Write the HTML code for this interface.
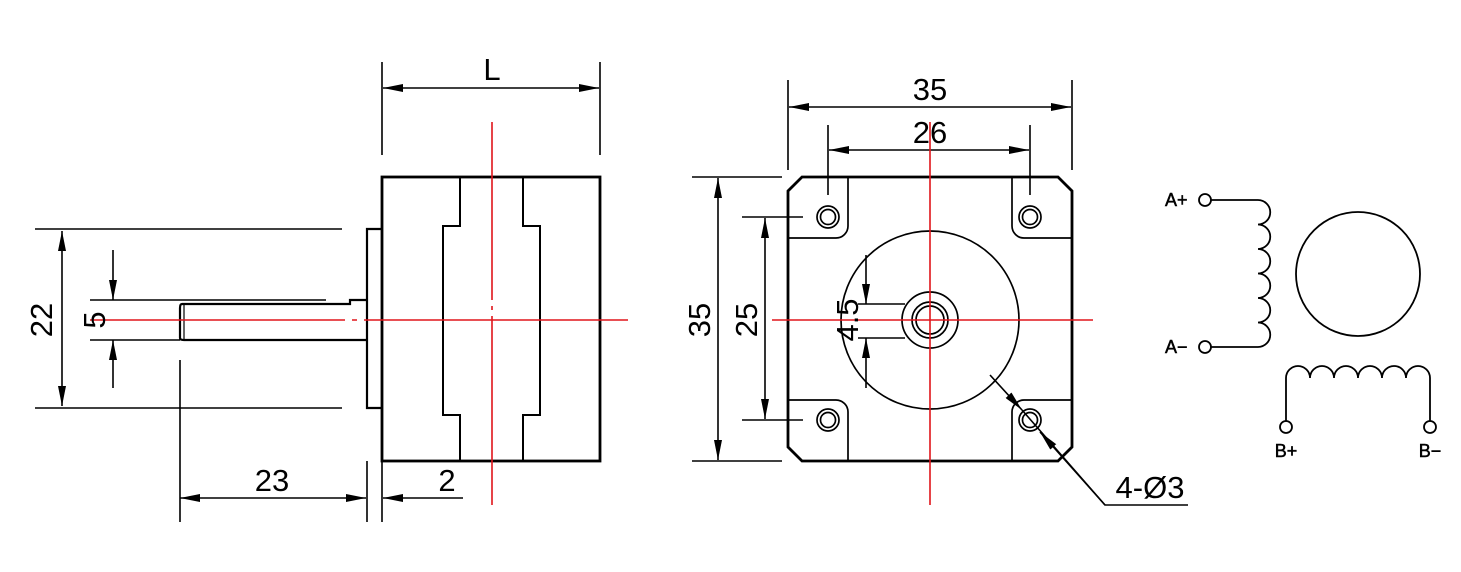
<!DOCTYPE html>
<html><head><meta charset="utf-8"><style>
html,body{margin:0;padding:0;background:#fff;}
svg{display:block;}
text{font-family:"Liberation Sans",sans-serif;fill:#000;}
</style></head><body>
<svg width="1461" height="572" viewBox="0 0 1461 572" xmlns="http://www.w3.org/2000/svg">
<defs>
<marker id="a" viewBox="0 0 20 8" refX="20" refY="4" markerWidth="20" markerHeight="8" markerUnits="userSpaceOnUse" orient="auto-start-reverse"><path d="M0,0 L20,4 L0,8 Z" fill="#000"/></marker>
</defs>
<g stroke="#000" fill="none">
<!-- side view -->
<rect x="382" y="177" width="218" height="284" stroke-width="2.8"/>
<path d="M460,177 V226 H443 V415 H460 V461 M523,177 V226 H540 V415 H523 V461" stroke-width="2"/>
<path d="M382,229 H367 V408 H382" stroke-width="2.2"/>
<path d="M367,300 H350 V304 H182 Q180,304 180,308 V338 Q180,340 184,340 H367" stroke-width="2.2"/>
<path d="M184,304 V340" stroke-width="1.2"/>
<g stroke-width="1.6">
<path d="M35,229 H342 M35,408 H342 M90,300 H326 M90,340 H180"/>
<path d="M62,231 V406" marker-start="url(#a)" marker-end="url(#a)"/>
<path d="M113,250 V300" marker-end="url(#a)"/>
<path d="M113,388 V340" marker-end="url(#a)"/>
<path d="M180,360 V522 M367,461 V522 M382,461 V522"/>
<path d="M180,498 H366" marker-start="url(#a)" marker-end="url(#a)"/>
<path d="M463,498 H383" marker-end="url(#a)"/>
<path d="M382,62 V155 M600,62 V155"/>
<path d="M383,88 H599" marker-start="url(#a)" marker-end="url(#a)"/>
</g>
<!-- front view -->
<path d="M802,177 H1058 L1072,191 V447 L1058,461 H802 L788,447 V191 Z" stroke-width="2.8"/>
<g stroke-width="1.7">
<path d="M848,177 V226 A12,12 0 0 1 836,238 H788"/>
<path d="M1012,177 V226 A12,12 0 0 0 1024,238 H1072"/>
<path d="M848,461 V412 A12,12 0 0 0 836,400 H788"/>
<path d="M1012,461 V412 A12,12 0 0 1 1024,400 H1072"/>
<circle cx="828" cy="217" r="11"/><circle cx="828" cy="217" r="7.5"/>
<circle cx="1030" cy="217" r="11"/><circle cx="1030" cy="217" r="7.5"/>
<circle cx="828" cy="420" r="11"/><circle cx="828" cy="420" r="7.5"/>
<circle cx="1030" cy="420" r="11"/><circle cx="1030" cy="420" r="7.5"/>
<circle cx="930" cy="320" r="89"/>
<circle cx="930" cy="320" r="28"/>
<circle cx="930" cy="320" r="18"/><circle cx="930" cy="320" r="14"/>
</g>
<g stroke-width="1.6">
<path d="M788,80 V170 M1072,80 V170 M828,125 V195 M1030,125 V195"/>
<path d="M789,107 H1071" marker-start="url(#a)" marker-end="url(#a)"/>
<path d="M829,150 H1029" marker-start="url(#a)" marker-end="url(#a)"/>
<path d="M692,177 H782 M692,461 H782 M742,217 H803 M742,420 H803"/>
<path d="M718,178 V460" marker-start="url(#a)" marker-end="url(#a)"/>
<path d="M765,218 V419" marker-start="url(#a)" marker-end="url(#a)"/>
<path d="M858,304 H905 M858,338 H905"/>
<path d="M866,255 V304" marker-end="url(#a)"/>
<path d="M866,388 V338" marker-end="url(#a)"/>
<path d="M990,375 L1022,410" marker-end="url(#a)"/>
<path d="M1105,505 L1040,432" marker-end="url(#a)"/>
<path d="M1022,410 L1105,505 H1188"/>
</g>
<!-- schematic -->
<g stroke-width="1.8">
<circle cx="1205" cy="200" r="6"/><circle cx="1205" cy="347" r="6"/>
<path d="M1211,200 H1258 a12.25,12.25 0 0 1 0,24.5 a12.25,12.25 0 0 1 0,24.5 a12.25,12.25 0 0 1 0,24.5 a12.25,12.25 0 0 1 0,24.5 a12.25,12.25 0 0 1 0,24.5 a12.25,12.25 0 0 1 0,24.5 H1211"/>
<circle cx="1358" cy="274" r="62"/>
<path d="M1286,421 V378 a12,12 0 0 1 24,0 a12,12 0 0 1 24,0 a12,12 0 0 1 24,0 a12,12 0 0 1 24,0 a12,12 0 0 1 24,0 a12,12 0 0 1 24,0 V421"/>
<circle cx="1286" cy="427" r="6"/><circle cx="1430" cy="427" r="6"/>
</g>
</g>
<!-- red center lines -->
<g stroke="#e0151b" stroke-width="1.6" fill="none">
<path d="M90,320 H345 M352,320 H357 M364,320 H628"/>
<path d="M492,122 V300 M492,306 V310 M492,316 V505"/>
<path d="M772,320 H1093 M930,122 V505"/>
</g>
<!-- text -->
<g font-size="31">
<text x="492" y="80" text-anchor="middle">L</text>
<text x="272" y="491" text-anchor="middle">23</text>
<text x="447" y="491" text-anchor="middle">2</text>
<text transform="translate(52,320) rotate(-90)" text-anchor="middle">22</text>
<text transform="translate(105,320) rotate(-90)" text-anchor="middle">5</text>
<text x="930" y="100" text-anchor="middle">35</text>
<text x="930" y="143" text-anchor="middle">26</text>
<text transform="translate(710,320) rotate(-90)" text-anchor="middle">35</text>
<text transform="translate(757,320) rotate(-90)" text-anchor="middle">25</text>
<text transform="translate(858,320) rotate(-90)" text-anchor="middle">4.5</text>
<text x="1150" y="498" text-anchor="middle">4-Ø3</text>
</g>
<g font-size="18" stroke="#000" stroke-width="0.5">
<text x="1165" y="206">A+</text>
<text x="1165" y="353">A−</text>
<text x="1286" y="457" text-anchor="middle">B+</text>
<text x="1430" y="457" text-anchor="middle">B−</text>
</g>
</svg>
</body></html>
